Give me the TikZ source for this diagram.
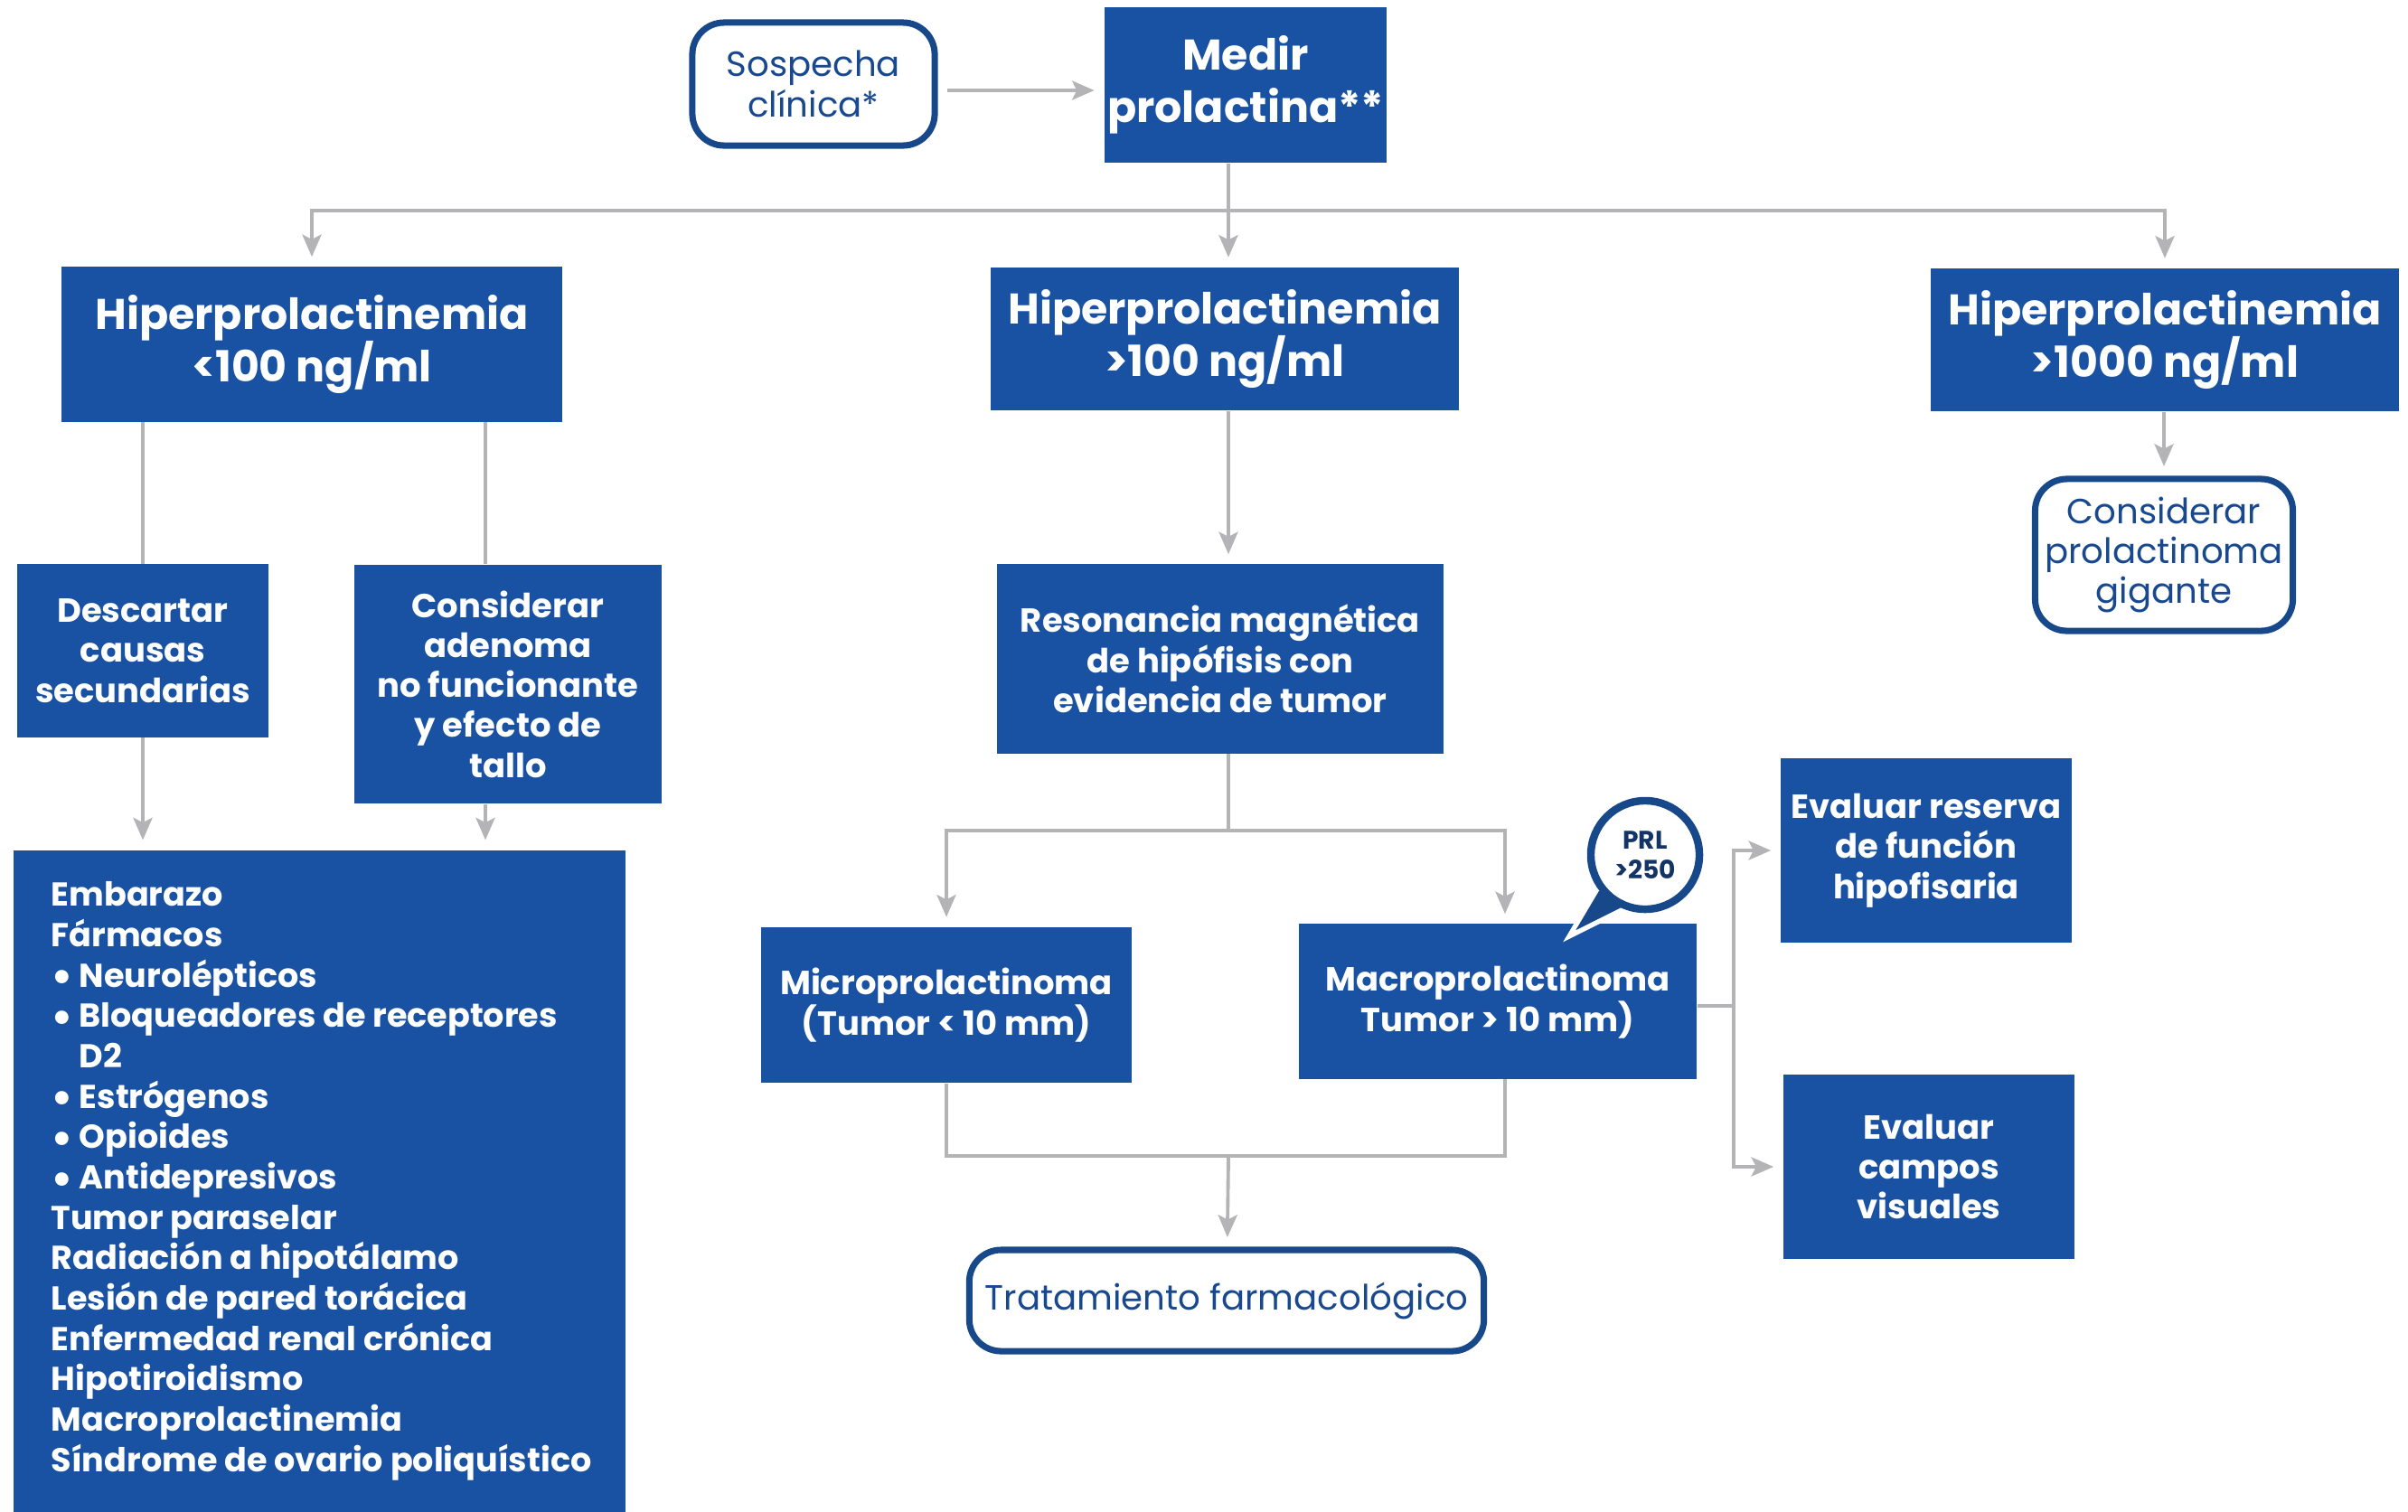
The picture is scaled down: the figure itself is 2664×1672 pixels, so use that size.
\documentclass[tikz,border=0pt]{standalone}
\usepackage{fontspec}
\setmainfont{Poppins}
\usetikzlibrary{arrows.meta}
\definecolor{boxblue}{RGB}{25,82,162}
\definecolor{edgeblue}{RGB}{22,72,138}
\definecolor{txtblue}{RGB}{24,72,142}
\definecolor{prlblue}{RGB}{20,52,104}
\definecolor{linegray}{RGB}{180,180,182}
\newcommand{\listdot}{\makebox[0.85em][l]{\smash{\raisebox{-1.6pt}{\fontsize{14}{12}\selectfont\textbullet}}}}
\tikzset{
	bluebox/.style={fill=boxblue, text=white, align=center, inner sep=0pt,
		font=\bfseries\fontsize{10.5}{12.6}\selectfont},
	bigbox/.style={bluebox, font=\bfseries\fontsize{13.5}{16.5}\selectfont},
	roundbox/.style={draw=edgeblue, line width=2pt, rounded corners=10pt, fill=white,
		text=txtblue, align=center, inner sep=0pt, font=\fontsize{11}{12.6}\selectfont},
	conn/.style={draw=linegray, line width=1.1pt},
	arr/.style={conn, -{Stealth[length=7pt,width=6pt,inset=1.5pt]}, shorten >=3pt},
}
\begin{document}
\begin{tikzpicture}[x=0.01cm, y=-0.01cm]
	\useasboundingbox (0,0) rectangle (2664,1672);
	% 1. cajas superiores
	\node[roundbox, minimum width=2.68cm, minimum height=1.36cm] (sosp) at (900,93) {Sospecha\\clínica*};
	\node[bigbox, minimum width=3.12cm, minimum height=1.72cm] (medir) at (1378,94) {Medir\\prolactina**};
	\node[bigbox, minimum width=5.54cm, minimum height=1.71cm] (h1) at (345,381) {Hiperprolactinemia\\<100 ng/ml};
	\node[bigbox, minimum width=5.18cm, minimum height=1.58cm] (h2) at (1355,375) {Hiperprolactinemia\\>100 ng/ml};
	\node[bigbox, minimum width=5.18cm, minimum height=1.58cm] (h3) at (2395,376) {Hiperprolactinemia\\>1000 ng/ml};
	
	% 2. rama izquierda
	\node[bluebox, minimum width=2.77cm, minimum height=1.91cm] (desc) at (158,720) {Descartar\\causas\\secundarias};
	\node[bluebox, minimum width=3.40cm, minimum height=2.64cm] (adn) at (562,757) {Considerar\\adenoma\\no funcionante\\y efecto de\\tallo};
	\node[bluebox, anchor=north west, align=flush left, minimum width=6.77cm, minimum height=7.32cm,
		text width=6.77cm, inner xsep=0pt, font=\bfseries\fontsize{10.4}{12.7}\selectfont] (lst) at (14,940) {\leftskip=0.42cm
		Embarazo\\Fármacos\\
		\listdot Neurolépticos\\\listdot Bloqueadores de receptores\\\hspace*{0.85em}D2\\
		\listdot Estrógenos\\\listdot Opioides\\\listdot Antidepresivos\\Tumor paraselar\\
		Radiación a hipotálamo\\Lesión de pared torácica\\Enfermedad renal crónica\\
		Hipotiroidismo\\Macroprolactinemia\\Síndrome de ovario poliquístico\par};
	
	% 3. rama central
	\node[bluebox, minimum width=4.93cm, minimum height=2.09cm] (res) at (1350,729) {Resonancia magnética\\de hipófisis con\\evidencia de tumor};
	\node[bluebox, minimum width=4.09cm, minimum height=1.72cm] (micro) at (1047,1112) {Microprolactinoma\\(Tumor < 10 mm)};
	\node[bluebox, minimum width=4.40cm, minimum height=1.71cm] (macro) at (1657,1108) {Macroprolactinoma\\Tumor > 10 mm)};
	\node[roundbox, minimum width=5.69cm, minimum height=1.12cm] (trat) at (1357,1439) {Tratamiento farmacológico};
	\node[bluebox, minimum width=3.21cm, minimum height=2.04cm] (reserva) at (2131,941) {Evaluar reserva\\de función\\hipofisaria};
	\node[bluebox, minimum width=3.21cm, minimum height=2.04cm] (campos) at (2134,1291) {Evaluar\\campos\\visuales};
	
	% 4. rama derecha
	\node[roundbox, minimum width=2.85cm, minimum height=1.68cm] (gig) at (2394,614) {Considerar\\prolactinoma\\gigante};
	
	% 5. globo PRL
	\filldraw[fill=edgeblue, draw=white, line width=1.5pt] (1768,982) -- (1736,1036) -- (1808,1000) -- cycle;
	\node[circle, draw=edgeblue, line width=2.4pt, fill=white, minimum size=1.2cm, inner sep=0pt,
		text=prlblue, align=center, font=\bfseries\fontsize{8}{9.5}\selectfont] (prl) at (1820,946) {PRL\\>250};
	
	% 6. conectores
	\coordinate (sm) at (1130,100);
	\coordinate (bus) at (1359,233);
	\coordinate (adnx) at (537,900);
	\coordinate (split) at (1359,919);
	\coordinate (macx) at (1665,919);
	\coordinate (merge) at (1359,1279);
	\coordinate (fork) at (1918,1113);
	\draw[arr, shorten <=3pt] (sosp.east |- sm) -- (medir.west |- sm);
	\draw[conn] (medir.south -| bus) -- (bus);
	\draw[arr] (bus) -| (h1);
	\draw[arr] (bus) -- (h2.north -| bus);
	\draw[arr] (bus) -| (h3);
	\draw[conn] (h1.south -| desc) -- (desc);
	\draw[conn] (h1.south -| adnx) -- (adn.north -| adnx);
	\draw[arr] (desc) -- (lst.north -| desc);
	\draw[arr] (adn.south -| adnx) -- (lst.north -| adnx);
	\draw[arr] (h2.south -| bus) -- (res.north -| bus);
	\draw[conn] (res.south -| split) -- (split);
	\draw[arr] (split) -| (micro);
	\draw[arr] (split) -| (macro.north -| macx);
	\draw[conn] (micro) |- (merge);
	\draw[conn] (macro.south -| macx) |- (merge);
	\draw[arr] (merge) -- (trat);
	\draw[conn] (macro.east |- fork) -- (fork);
	\draw[arr] (fork) |- (reserva);
	\draw[arr] (fork) |- (campos);
	\draw[arr] (h3.south -| gig) -- (gig);
\end{tikzpicture}
\end{document}
